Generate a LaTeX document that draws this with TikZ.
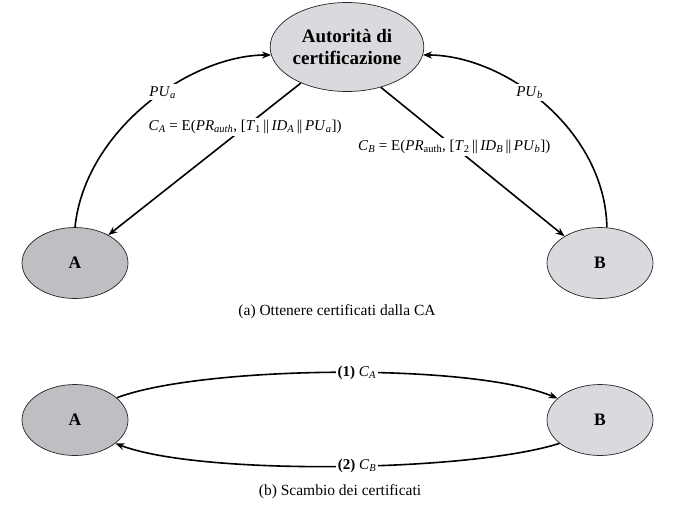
\documentclass[tikz,border=0pt]{standalone}
\usepackage{fontspec}
\setmainfont{Liberation Serif}
\usetikzlibrary{shapes.geometric,arrows.meta}
\definecolor{darkfill}{RGB}{190,191,195}
\definecolor{lightfill}{RGB}{217,218,221}
\newcommand{\iv}[1]{\textit{#1}}
\newcommand{\sbs}[1]{\textsubscript{#1}}
\newcommand{\dbar}{\,|\kern-0.3pt|\,}
\begin{document}
\begin{tikzpicture}[x=1pt,y=-1pt,
  ent/.style={ellipse,draw=black!85,line width=0.7pt,minimum width=106pt,minimum height=71pt,inner sep=0pt,font=\fontsize{17.5}{20}\selectfont\bfseries},
  conn/.style={line width=1.6pt,-{Stealth[length=9pt,width=7pt]}},
  lbl/.style={fill=white,inner sep=2pt,font=\fontsize{15}{17}\selectfont},
  captext/.style={font=\fontsize{15.5}{18}\selectfont}]
\useasboundingbox (0,0) rectangle (674,531);
% part (a)
\node[ent,fill=lightfill,minimum width=137pt,minimum height=89pt,font=\fontsize{19}{22}\selectfont\bfseries,align=center] (CA) at (347,47) {Autorità di\\certificazione};
\node[ent,fill=darkfill] (A) at (75,263) {A};
\node[ent,fill=lightfill] (B) at (600,263) {B};
\draw[conn] (A.north) .. controls (85,130) and (190,55) .. (CA.186)
  node[lbl,pos=0.57] (pua) {\iv{PU}\sbs{\iv{a}}};
\draw[conn] (B.79) .. controls (605,130) and (505,55) .. (CA.354)
  node[lbl,pos=0.57] (pub) {\iv{PU}\sbs{\iv{b}}};
\draw[conn] (CA.218) -- (A.40)
  node[lbl,pos=0.29] (ca) {\iv{C}\sbs{\iv{A}} = E(\iv{PR}\sbs{\iv{auth}}, [\iv{T}\sbs{1}\dbar\iv{ID}\sbs{\iv{A}}\dbar\iv{PU}\sbs{\iv{a}}])};
\draw[conn] (CA.310) -- (B.143)
  node[lbl,pos=0.4] (cb) {\iv{C}\sbs{\iv{B}} = E(\iv{PR}\sbs{auth}, [\iv{T}\sbs{2}\dbar\iv{ID}\sbs{\iv{B}}\dbar\iv{PU}\sbs{\iv{b}}])};
\node[captext] (capa) at (337,312) {(a) Ottenere certificati dalla CA};
% part (b)
\node[ent,fill=darkfill] (A2) at (75,420) {A};
\node[ent,fill=lightfill] (B2) at (600,420) {B};
\draw[conn] (A2.28) .. controls (200,366) and (470,362) .. (B2.153)
  node[lbl,pos=0.54] (m1) {\textbf{(1)} \iv{C}\sbs{\iv{A}}};
\draw[conn] (B2.210) .. controls (470,472) and (200,476) .. (A2.330)
  node[lbl,pos=0.46] (m2) {\textbf{(2)} \iv{C}\sbs{\iv{B}}};
\node[captext] (capb) at (340,492) {(b) Scambio dei certificati};
\end{tikzpicture}
\end{document}
